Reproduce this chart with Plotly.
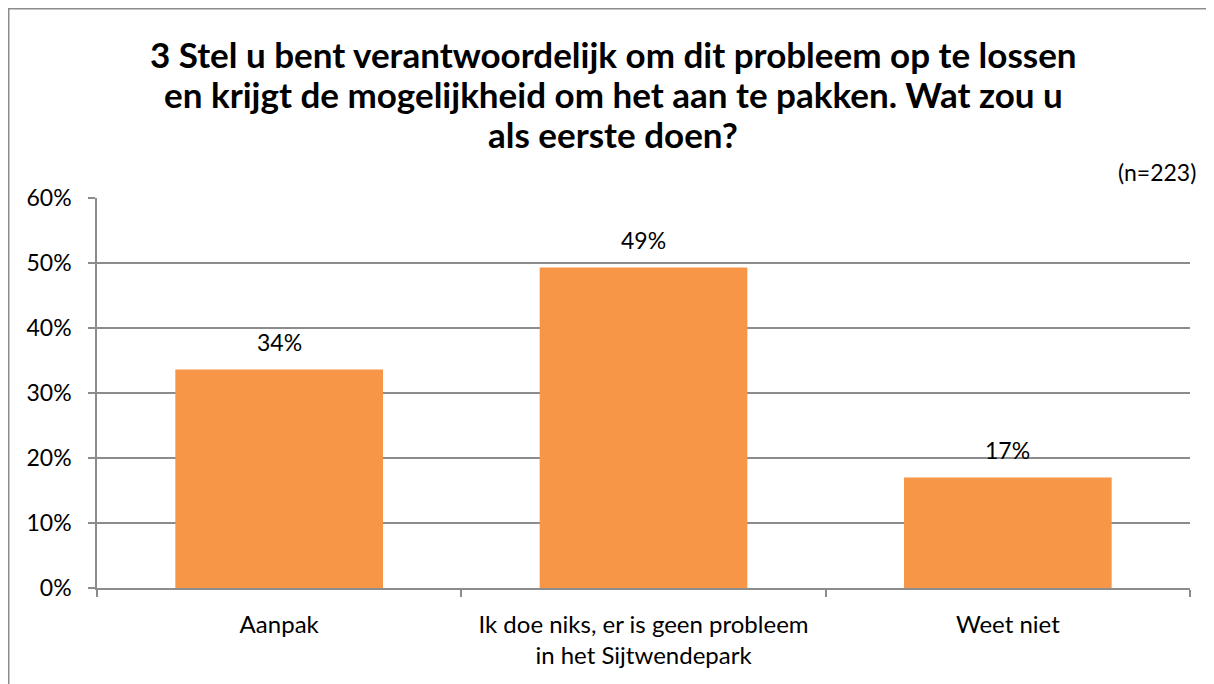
import plotly.graph_objects as go

categories = ["Aanpak", "Ik doe niks, er is geen probleem<br>in het Sijtwendepark", "Weet niet"]
values = [33.6, 49.3, 17.0]
labels = ["34%", "49%", "17%"]
y_ticks = [0, 10, 20, 30, 40, 50, 60]
y_tick_text = ["0%", "10%", "20%", "30%", "40%", "50%", "60%"]
title_lines = [
    "3 Stel u bent verantwoordelijk om dit probleem op te lossen",
    "en krijgt de mogelijkheid om het aan te pakken. Wat zou u",
    "als eerste doen?",
]
n_note = "(n=223)"

FONT = "Lato"
GRID = "#8c8c8c"

W, H = 1206, 676
L, R, T, B = 89, 24, 190, 96
PW, PH = W - L - R, H - T - B


def px(fx):
    return (fx - L) / PW


def py(fy):
    return 1 - (fy - T) / PH


fig = go.Figure()
fig.add_trace(go.Bar(x=categories, y=values, marker=dict(color="#F79646", line=dict(width=0)),
                     hoverinfo="skip"))

for c, v, t in zip(categories, values, labels):
    fig.add_annotation(x=c, y=v, text=t, showarrow=False, yanchor="bottom", yshift=12,
                       font=dict(family=FONT, size=23, color="#000"))

for i, line in enumerate(title_lines):
    fig.add_annotation(xref="paper", yref="paper", x=px(605), y=py(46 + 40 * i),
                       yanchor="middle", xanchor="center",
                       text="<b>%s</b>" % line, showarrow=False,
                       font=dict(family=FONT, size=35, color="#000"))

fig.add_annotation(xref="paper", yref="paper", x=px(1190), y=py(164),
                   xanchor="right", yanchor="middle", text=n_note, showarrow=False,
                   font=dict(family=FONT, size=23, color="#000"))

# outer chart border
fig.add_shape(type="rect", xref="paper", yref="paper",
              x0=px(0.75), x1=px(W + 30), y0=py(H + 30), y1=py(0.75),
              line=dict(color="#8c8c8c", width=1.5), fillcolor="rgba(0,0,0,0)", layer="below")

fig.update_layout(
    width=W, height=H,
    margin=dict(l=L, r=R, t=T, b=B),
    paper_bgcolor="white", plot_bgcolor="white",
    bargap=0.43, showlegend=False,
    font=dict(family=FONT, size=23, color="#000"),
    xaxis=dict(showline=True, linecolor=GRID, linewidth=1.5, ticks="outside", tickson="boundaries",
               ticklen=7, tickcolor=GRID, tickwidth=1.5, showgrid=False,
               tickfont=dict(family=FONT, size=24, color="#000"), ticklabelstandoff=14),
    yaxis=dict(range=[0, 60], tickvals=y_ticks, ticktext=y_tick_text, showline=True,
               linecolor=GRID, linewidth=1.5, ticks="outside", ticklen=7, tickcolor=GRID,
               tickwidth=1.5, showgrid=True, gridcolor=GRID, gridwidth=1.5, zeroline=False,
               tickfont=dict(family=FONT, size=23, color="#000"), ticklabelstandoff=12),
)

fig.write_html("out.html")
